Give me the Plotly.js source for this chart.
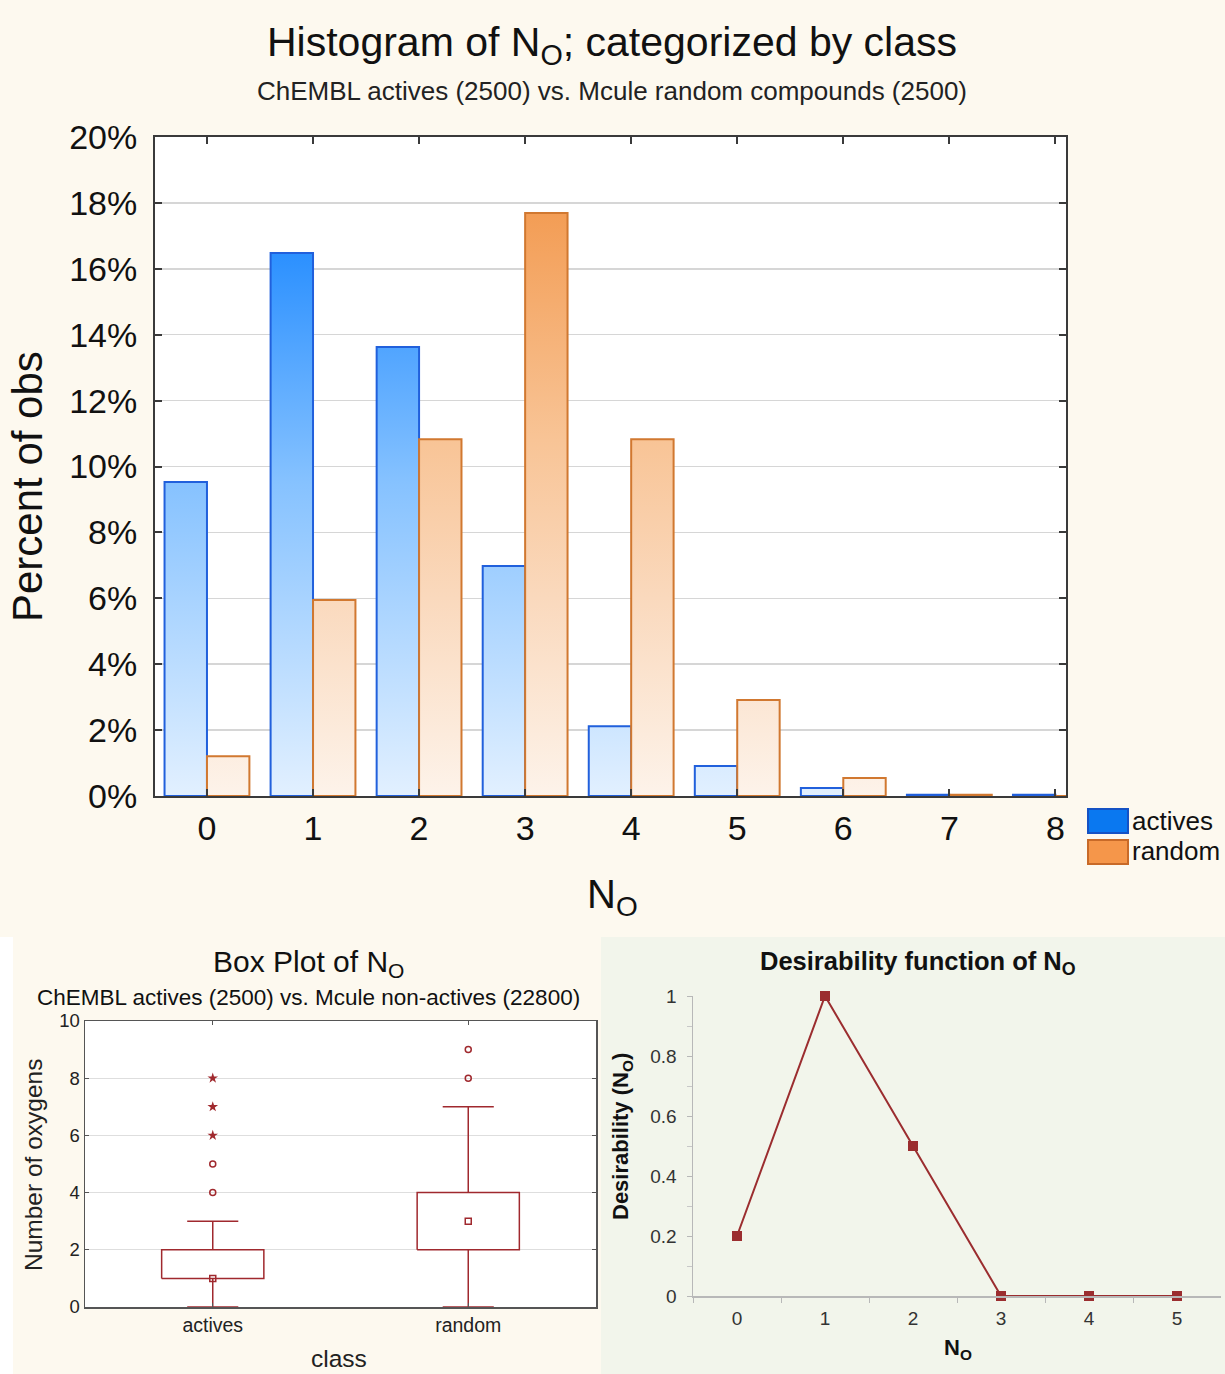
<!DOCTYPE html>
<html>
<head>
<meta charset="utf-8">
<script src="https://cdn.plot.ly/plotly-3.0.1.min.js"></script>
<style>
  html, body { margin: 0; padding: 0; background: #fdf9ef; }
  #chart { width: 1225px; height: 1374px; }
</style>
</head>
<body>
<div id="chart"></div>
<script>
// ---- Histogram: percent of all observations per oxygen count ----
const oxygenCounts = [0, 1, 2, 3, 4, 5, 6, 7, 8];
const activesPercent = [9.53, 16.48, 13.63, 6.98, 2.12, 0.91, 0.24, 0.04, 0.04];
const randomPercent  = [1.21, 5.95, 10.83, 17.69, 10.83, 2.91, 0.55, 0.04, 0.0];
const seriesNames = ['actives', 'random'];

// ---- Box plot summary per class ----
const boxClasses   = ['actives', 'random'];
const boxQ1        = [1, 2];
const boxMedian    = [1, 3];
const boxQ3        = [2, 4];
const whiskerLow   = [0, 0];
const whiskerHigh  = [3, 7];
const outlierVals  = [[4, 5], [8, 9]];
const extremeVals  = [[6, 7, 8], []];

// ---- Desirability function ----
const desirCategories = ['0', '1', '2', '3', '4', '5'];
const desirValues     = [0.2, 1, 0.5, 0, 0, 0];

const W = 1225, H = 1374;
const FONT = 'Liberation Sans, Arial, sans-serif';
const px = x => x / W;
const py = y => 1 - y / H;

const BOXRED = '#a0292e';
const DESRED = '#9b2d2f';

const traces = [];

// histogram bars (solid colors are replaced by vertical gradients after drawing)
traces.push({
  type: 'bar', name: seriesNames[0], x: oxygenCounts, y: activesPercent,
  xaxis: 'x', yaxis: 'y', showlegend: false, hoverinfo: 'x+y',
  marker: { color: '#1a7ef2', line: { color: '#2160dc', width: 2 } }
});
traces.push({
  type: 'bar', name: seriesNames[1], x: oxygenCounts, y: randomPercent,
  xaxis: 'x', yaxis: 'y', showlegend: false, hoverinfo: 'x+y',
  marker: { color: '#f3964c', line: { color: '#d17830', width: 2 } }
});

// box plot built from the summary arrays
const halfBox = 0.2, halfCap = 0.1;
const rectX = [], rectY = [], whX = [], whY = [];
boxClasses.forEach((c, i) => {
  rectX.push(i - halfBox, i + halfBox, i + halfBox, i - halfBox, i - halfBox, null);
  rectY.push(boxQ1[i], boxQ1[i], boxQ3[i], boxQ3[i], boxQ1[i], null);
  // whisker stems
  whX.push(i, i, null, i, i, null);
  whY.push(boxQ3[i], whiskerHigh[i], null, boxQ1[i], whiskerLow[i], null);
  // whisker caps
  whX.push(i - halfCap, i + halfCap, null, i - halfCap, i + halfCap, null);
  whY.push(whiskerHigh[i], whiskerHigh[i], null, whiskerLow[i], whiskerLow[i], null);
});
traces.push({
  type: 'scatter', mode: 'lines', x: rectX, y: rectY, xaxis: 'x2', yaxis: 'y2',
  line: { color: BOXRED, width: 1.5 }, showlegend: false, hoverinfo: 'skip'
});
traces.push({
  type: 'scatter', mode: 'lines', x: whX, y: whY, xaxis: 'x2', yaxis: 'y2',
  line: { color: BOXRED, width: 1.5 }, showlegend: false, hoverinfo: 'skip'
});
traces.push({
  type: 'scatter', mode: 'markers', name: 'median',
  x: boxClasses.map((c, i) => i), y: boxMedian, xaxis: 'x2', yaxis: 'y2',
  marker: { symbol: 'square-open', size: 6, color: BOXRED, line: { width: 1.5 } },
  showlegend: false
});
const oX = [], oY = [], eX = [], eY = [];
boxClasses.forEach((c, i) => {
  outlierVals[i].forEach(v => { oX.push(i); oY.push(v); });
  extremeVals[i].forEach(v => { eX.push(i); eY.push(v); });
});
traces.push({
  type: 'scatter', mode: 'markers', name: 'outliers', x: oX, y: oY,
  xaxis: 'x2', yaxis: 'y2', showlegend: false,
  marker: { symbol: 'circle-open', size: 6, color: BOXRED, line: { width: 1.5 } }
});
traces.push({
  type: 'scatter', mode: 'markers', name: 'extremes', x: eX, y: eY,
  xaxis: 'x2', yaxis: 'y2', showlegend: false,
  marker: { symbol: 'star', size: 8, color: BOXRED }
});

// desirability line
traces.push({
  type: 'scatter', mode: 'lines+markers', x: desirCategories, y: desirValues,
  xaxis: 'x3', yaxis: 'y3', showlegend: false, cliponaxis: false,
  line: { color: DESRED, width: 2 },
  marker: { symbol: 'square', size: 10, color: DESRED }
});

const ann = (x, y, text, size, extra) => Object.assign({
  xref: 'paper', yref: 'paper', x: px(x), y: py(y), text: text, showarrow: false,
  xanchor: 'center', yanchor: 'middle', font: { family: FONT, size: size, color: '#111' }
}, extra || {});

const layout = {
  width: W, height: H,
  margin: { l: 0, r: 0, t: 0, b: 0 },
  paper_bgcolor: '#fdf9ef',
  plot_bgcolor: '#ffffff',
  font: { family: FONT, color: '#111' },
  barmode: 'group', bargap: 0.2, bargroupgap: 0,
  title: {
    text: 'Histogram of N<sub>O</sub>; categorized by class',
    x: px(612), xanchor: 'center', y: py(42), yanchor: 'middle', yref: 'container',
    font: { family: FONT, size: 41, color: '#111' }
  },
  xaxis: {
    domain: [px(155), px(1066)], anchor: 'y',
    range: [-0.49, 8.1], tickmode: 'array', tickvals: oxygenCounts,
    ticks: 'inside', ticklen: 7, tickwidth: 2, tickcolor: '#3a3a3a',
    showline: true, linecolor: '#3a3a3a', linewidth: 2, mirror: 'ticks',
    showgrid: false, zeroline: false, fixedrange: true,
    tickfont: { family: FONT, size: 34, color: '#111' }, ticklabelstandoff: 1
  },
  yaxis: {
    domain: [py(796), py(137)], anchor: 'x',
    range: [0, 20], dtick: 2, ticksuffix: '%',
    ticks: 'inside', ticklen: 7, tickwidth: 2, tickcolor: '#3a3a3a',
    showline: true, linecolor: '#3a3a3a', linewidth: 2, mirror: 'ticks',
    showgrid: true, gridcolor: '#d6d6d6', gridwidth: 1.5, zeroline: false, fixedrange: true,
    tickfont: { family: FONT, size: 34, color: '#111' }, ticklabelstandoff: 9
  },
  xaxis2: {
    domain: [px(85), px(596)], anchor: 'y2',
    range: [-0.5, 1.5], tickmode: 'array', tickvals: [0, 1], ticktext: boxClasses,
    ticks: 'inside', ticklen: 4, tickcolor: '#555',
    showline: true, linecolor: '#555', linewidth: 1.5, mirror: 'ticks',
    showgrid: false, zeroline: false, fixedrange: true,
    tickfont: { family: FONT, size: 19.5, color: '#222' }
  },
  yaxis2: {
    domain: [py(1307), py(1021)], anchor: 'x2',
    range: [0, 10], dtick: 2,
    ticks: 'inside', ticklen: 4, tickcolor: '#555',
    showline: true, linecolor: '#555', linewidth: 1.5, mirror: 'ticks',
    showgrid: true, gridcolor: '#dedede', gridwidth: 1, zeroline: false, fixedrange: true,
    tickfont: { family: FONT, size: 18.5, color: '#222' }
  },
  xaxis3: {
    domain: [px(693), px(1221)], anchor: 'y3',
    type: 'category', tickson: 'boundaries', range: [-0.5, 5.5],
    ticks: 'outside', ticklen: 5, tickcolor: '#b8b8b8',
    showline: true, linecolor: '#b8b8b8', linewidth: 1.5,
    showgrid: false, zeroline: false, fixedrange: true,
    tickfont: { family: FONT, size: 19, color: '#333' }, ticklabelstandoff: 5
  },
  yaxis3: {
    domain: [py(1296), py(996)], anchor: 'x3',
    range: [0, 1], dtick: 0.2,
    ticks: 'outside', ticklen: 5, tickcolor: '#b8b8b8',
    minor: { ticks: 'outside', dtick: 0.1, ticklen: 5, tickcolor: '#c8c8c8' },
    showline: true, linecolor: '#b8b8b8', linewidth: 1.5,
    showgrid: false, zeroline: false, fixedrange: true,
    tickfont: { family: FONT, size: 19, color: '#333' }, ticklabelstandoff: 6
  },
  shapes: [
    // bottom panels
    { type: 'rect', xref: 'paper', yref: 'paper', x0: px(601), x1: 1, y0: 0, y1: py(937),
      fillcolor: '#f2f5eb', line: { width: 0 }, layer: 'below' },
    { type: 'rect', xref: 'paper', yref: 'paper', x0: 0, x1: px(13), y0: 0, y1: py(937),
      fillcolor: '#ffffff', line: { width: 0 }, layer: 'below' },
    // legend swatches
    { type: 'rect', xref: 'paper', yref: 'paper', x0: px(1088), x1: px(1128), y0: py(833), y1: py(809),
      fillcolor: '#0a78f0', line: { color: '#1552c4', width: 2 } },
    { type: 'rect', xref: 'paper', yref: 'paper', x0: px(1088), x1: px(1128), y0: py(864), y1: py(840),
      fillcolor: '#f5964a', line: { color: '#c86a28', width: 2 } }
  ],
  annotations: [
    ann(612, 91, 'ChEMBL actives (2500) vs. Mcule random compounds (2500)', 26, { font: { family: FONT, size: 26, color: '#222' } }),
    ann(28, 487, 'Percent of obs', 42, { textangle: -90 }),
    ann(612, 897, 'N<sub>O</sub>', 40),
    ann(1130, 821, seriesNames[0], 26, { xanchor: 'left' }),
    ann(1130, 851, seriesNames[1], 26, { xanchor: 'left' }),
    ann(308, 963, 'Box Plot of N<sub>O</sub>', 30),
    ann(308, 997, 'ChEMBL actives (2500) vs. Mcule non-actives (22800)', 22.5),
    ann(33, 1165, 'Number of oxygens', 24.5, { textangle: -90, font: { family: FONT, size: 24.5, color: '#222' } }),
    ann(339, 1358, 'class', 24.5, { font: { family: FONT, size: 24.5, color: '#222' } }),
    ann(918, 963, '<b>Desirability function of N<sub>O</sub></b>', 25.5),
    ann(622, 1137, '<b>Desirability (N<sub>O</sub>)</b>', 22, { textangle: -90 }),
    ann(958, 1349, '<b>N<sub>O</sub></b>', 22)
  ]
};

// vertical gradient across the histogram's plot area, dark at the top
function addGradient(defs, id, stops, height) {
  const ns = 'http://www.w3.org/2000/svg';
  const g = document.createElementNS(ns, 'linearGradient');
  g.setAttribute('id', id);
  g.setAttribute('gradientUnits', 'userSpaceOnUse');
  g.setAttribute('x1', '0'); g.setAttribute('x2', '0');
  g.setAttribute('y1', '0'); g.setAttribute('y2', String(height));
  stops.forEach(([o, c]) => {
    const s = document.createElementNS(ns, 'stop');
    s.setAttribute('offset', String(o));
    s.setAttribute('stop-color', c);
    g.appendChild(s);
  });
  defs.appendChild(g);
}

Plotly.newPlot('chart', traces, layout, { staticPlot: true }).then(gd => {
  const defs = gd.querySelector('svg.main-svg defs');
  const h = gd._fullLayout.yaxis._length;
  addGradient(defs, 'grad-actives',
    [[0, '#1784ff'], [0.175, '#2b90ff'], [0.525, '#86c2ff'], [1, '#e2f0ff']], h);
  addGradient(defs, 'grad-random',
    [[0, '#f08c40'], [0.115, '#f39d55'], [0.46, '#f8c496'], [0.7, '#fad9bd'], [1, '#fdf3ea']], h);
  const barTraces = gd.querySelectorAll('.barlayer .trace');
  const ids = ['grad-actives', 'grad-random'];
  barTraces.forEach((t, i) => {
    t.querySelectorAll('.point path').forEach(p => {
      p.style.fill = 'url(#' + ids[i] + ')';
    });
  });
});
</script>
</body>
</html>
